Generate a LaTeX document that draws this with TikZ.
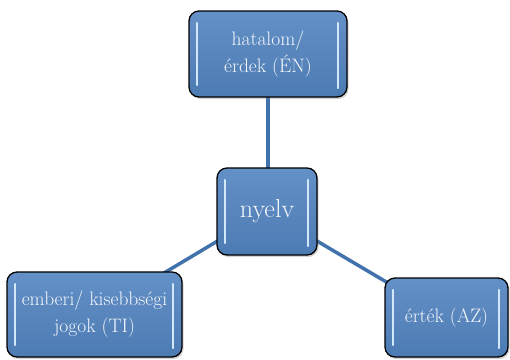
\documentclass[tikz,border=0pt]{standalone}
\usetikzlibrary{shadows,backgrounds}

\definecolor{boxblue}{RGB}{82,132,192}
\definecolor{linkblue}{RGB}{66,114,172}
\definecolor{barblue}{RGB}{210,232,250}
\definecolor{textwhite}{RGB}{244,247,252}

\tikzset{
  box/.style={draw=black, line width=1.3pt, rounded corners=10pt,
    top color=boxblue!90!white, bottom color=boxblue!93!black,
    drop shadow={shadow xshift=1.5pt, shadow yshift=-2pt, opacity=0.35},
    text=textwhite, align=center, inner sep=0pt,
    font=\fontsize{19.5}{27}\selectfont,
    path picture={
      \draw[bar] ([shift={(8pt,-12pt)}]path picture bounding box.north west)
        -- ([shift={(8pt,12pt)}]path picture bounding box.south west);
      \draw[bar] ([shift={(-9pt,-12pt)}]path picture bounding box.north east)
        -- ([shift={(-9pt,9pt)}]path picture bounding box.south east);
    }},
  bar/.style={draw=barblue, line width=2.2pt, line cap=round},
  link/.style={draw=linkblue, line width=3.5pt}
}

\begin{document}
\begin{tikzpicture}[x=1pt,y=-1pt]
  \useasboundingbox (0,0) rectangle (510,359);
  % boxes
  \node[box, minimum width=158pt, minimum height=86pt] (en) at (268,54) {hatalom/\\érdek (ÉN)};
  \node[box, minimum width=100pt, minimum height=87pt, font=\fontsize{26}{30}\selectfont] (nyelv) at (267,211.5) {nyelv};
  \node[box, minimum width=175pt, minimum height=85pt] (ti) at (94.5,314.5) {emberi/ kisebbségi\\jogok (TI)};
  \node[box, minimum width=123pt, minimum height=79pt] (az) at (446.5,317.5) {érték (AZ)};
  % connectors
  \begin{scope}[on background layer]
    \draw[link] (en.center) -- (en.center |- nyelv.center);
    \draw[link] (nyelv.center) -- (ti.center);
    \draw[link] (nyelv.center) -- (az.center);
  \end{scope}
\end{tikzpicture}
\end{document}
